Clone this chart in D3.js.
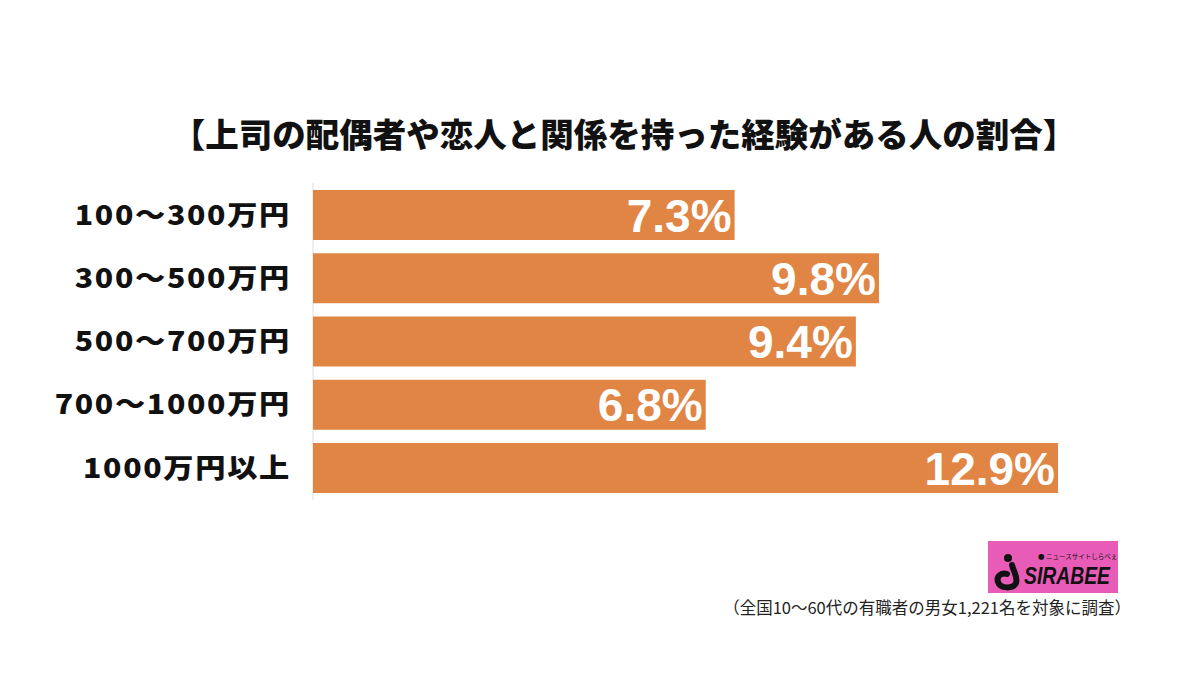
<!DOCTYPE html>
<html>
<head>
<meta charset="utf-8">
<script src="https://cdn.jsdelivr.net/npm/d3@7"></script>
<style>
  body { margin: 0; background: #fff; }
</style>
</head>
<body>
<div id="chart"></div>
<script>
// data
var categories = ["100～300万円", "300～500万円", "500～700万円", "700～1000万円", "1000万円以上"];
var values = [7.3, 9.8, 9.4, 6.8, 12.9];
var title = "【上司の配偶者や恋人と関係を持った経験がある人の割合】";
var note = "（全国10～60代の有職者の男女1,221名を対象に調査）";

const width = 1200, height = 675;
const margin = {left: 313, top: 190};
const jp = "'Noto Sans CJK JP', 'Noto Sans', sans-serif";
const latin = "'Liberation Sans', Arial, sans-serif";

const svg = d3.select('#chart')
    .append("svg")
    .attr('width', width)
    .attr('height', height);

var data = categories.map((c, i) => ({cat: c, val: values[i]}));

const xScale = d3.scaleLinear()
    .domain([0, 12.9])
    .range([margin.left, 1058]);

const yScale = d3.scaleBand()
    .domain(categories)
    .range([margin.top, 493])
    .paddingInner(0.21)
    .paddingOuter(0);

// title
svg.append("text")
    .attr("x", 624)
    .attr("y", 147)
    .attr("text-anchor", "middle")
    .style("font-family", jp)
    .style("font-size", "33.5px")
    .style("font-weight", 900)
    .attr("fill", "#111")
    .text(title);

// axis line
svg.append("line")
    .attr("x1", margin.left).attr("x2", margin.left)
    .attr("y1", 183).attr("y2", 500)
    .attr("stroke", "#e8e8e8")
    .attr("stroke-width", 1.5);

svg.selectAll(".bar")
    .data(data)
    .enter()
    .append("rect")
    .attr("class", "bar")
    .attr("x", xScale(0))
    .attr("y", d => yScale(d.cat))
    .attr("width", d => xScale(d.val) - xScale(0))
    .attr("height", yScale.bandwidth())
    .attr("fill", "#e08544");

// category labels (wide gothic look: stretch horizontally)
svg.selectAll(".cat")
    .data(data)
    .enter()
    .append("text")
    .attr("class", "cat")
    .attr("transform", d => `translate(291,${yScale(d.cat) + yScale.bandwidth() / 2}) scale(1.12,1)`)
    .attr("dy", "0.36em")
    .attr("text-anchor", "end")
    .style("font-family", jp)
    .style("font-size", "27px")
    .style("font-weight", 900)
    .style("letter-spacing", "1.5px")
    .attr("fill", "#111")
    .text(d => d.cat);

// value labels
svg.selectAll(".val")
    .data(data)
    .enter()
    .append("text")
    .attr("class", "val")
    .attr("x", d => xScale(d.val) - 3)
    .attr("y", d => yScale(d.cat) + yScale.bandwidth() / 2)
    .attr("dy", "0.36em")
    .attr("text-anchor", "end")
    .style("font-family", latin)
    .style("font-size", "46px")
    .style("font-weight", 700)
    .attr("fill", "#fff")
    .text(d => d.val.toFixed(1) + "%");

// logo
const logo = svg.append("g").attr("transform", "translate(988,541)");
logo.append("rect")
    .attr("width", 130).attr("height", 52)
    .attr("fill", "#e85cb8");
logo.append("circle")
    .attr("cx", 20).attr("cy", 17).attr("r", 4)
    .attr("fill", "#111");
logo.append("path")
    .attr("d", "M24,24 C26,32 30,36 28,42 C25,48 12,48 10,41 C8,35 14,31 19,33")
    .attr("fill", "none")
    .attr("stroke", "#111")
    .attr("stroke-width", 6)
    .attr("stroke-linecap", "round");
logo.append("text")
    .attr("x", 50).attr("y", 18)
    .style("font-family", jp)
    .style("font-size", "6.5px")
    .attr("fill", "#111")
    .text("● ニュースサイトしらべぇ");
logo.append("text")
    .attr("x", 36).attr("y", 43)
    .style("font-family", latin)
    .style("font-size", "24px")
    .style("font-weight", 700)
    .style("font-style", "italic")
    .attr("fill", "#111")
    .attr("textLength", 86)
    .attr("lengthAdjust", "spacingAndGlyphs")
    .text("SIRABEE");

// note
svg.append("text")
    .attr("x", 1131)
    .attr("y", 614)
    .attr("text-anchor", "end")
    .style("font-family", jp)
    .style("font-size", "16.5px")
    .attr("fill", "#222")
    .text(note);
</script>
</body>
</html>
